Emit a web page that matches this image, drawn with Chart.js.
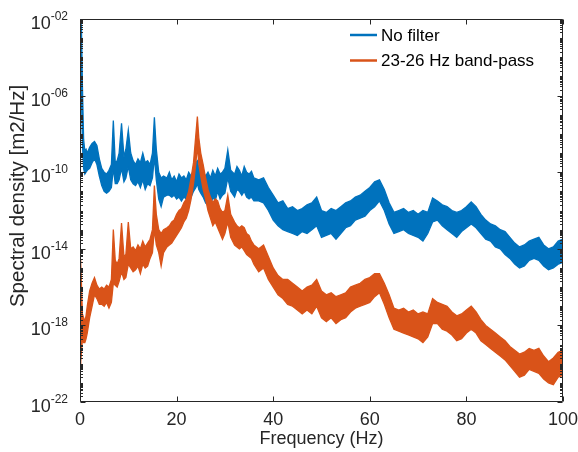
<!DOCTYPE html>
<html>
<head>
<meta charset="utf-8">
<script src="https://cdn.jsdelivr.net/npm/chart.js@4.4.0/dist/chart.umd.min.js"></script>
<style>
  html, body { margin: 0; padding: 0; background: #fff; }
</style>
</head>
<body>
<canvas id="mainChart" width="578" height="452"></canvas>
<script>
// frequency grid (Hz), denser below 36 Hz where the narrow lines are
const FREQ = [
  0, 0.15, 0.3, 0.5, 0.75, 1, 1.25, 1.5, 2, 2.5,
  3, 3.5, 4, 4.5, 5, 5.5, 6, 6.5, 6.9, 7.3,
  7.7, 8.1, 8.6, 9.1, 9.5, 10, 10.5, 11, 11.5, 12,
  12.5, 13, 13.5, 14, 14.5, 15, 15.4, 15.8, 16.3, 16.8,
  17.3, 18, 18.5, 19, 19.5, 20, 20.5, 21, 21.5, 22,
  22.5, 23, 23.5, 24, 24.3, 24.6, 25, 25.5, 26, 26.5,
  27, 27.5, 28, 28.5, 29, 29.5, 30, 30.6, 31.2, 32,
  32.5, 33, 33.5, 34, 34.5, 35, 35.5, 36,
  37, 38, 39, 40, 41, 42, 43, 44, 45, 46,
  47, 48, 49, 50, 51, 52, 53, 54, 55, 56,
  57, 58, 59, 60, 61, 62, 63, 64, 65, 66,
  67, 68, 69, 70, 71, 72, 73, 74, 75, 76,
  77, 78, 79, 80, 81, 82, 83, 84, 85, 86,
  87, 88, 89, 90, 91, 92, 93, 94, 95, 96,
  97, 98, 99, 100
];

// log10 of spectral density, upper / lower edge of the noisy trace
const NOFILT_HI = [
  -2.0, -2.1, -2.4, -5.5, -8.3, -8.9, -8.8, -9.0, -8.7, -8.5,
  -8.4, -8.6, -9.3, -9.8, -10.0, -10.1, -9.9, -9.6, -7.3, -9.5,
  -9.4, -9.0, -7.45, -9.2, -8.8, -7.8, -9.0, -9.4, -9.6, -9.3,
  -9.5, -9.0, -9.5, -9.4, -9.6, -9.0, -7.13, -8.8, -10.0, -10.3,
  -10.2, -10.3, -10.0, -10.4, -10.2, -10.5, -10.1, -10.3, -10.2, -10.4,
  -10.0, -10.2, -9.9, -9.5, -9.4, -9.8, -9.9, -10.0, -10.2, -10.0,
  -10.3, -9.9, -10.2, -9.8, -10.1, -10.0, -9.8, -8.84, -9.9, -10.1,
  -9.7, -9.9, -10.2, -9.7, -10.0, -10.1, -9.95, -10.3,
  -10.4, -10.3, -10.8, -11.2, -11.6, -11.5, -11.9, -11.8, -12.0, -11.9,
  -11.7, -11.6, -11.3, -12.0, -12.1, -11.9, -12.0, -11.8, -11.6, -11.5,
  -11.3, -11.2, -11.0, -10.8, -10.5, -10.4, -10.9, -11.6, -12.1, -12.0,
  -11.9, -12.1, -12.0, -12.2, -12.0, -12.1, -11.35, -11.5, -11.7, -11.8,
  -12.0, -12.1, -12.0, -11.8, -11.55, -11.8, -12.2, -12.5, -12.7, -12.8,
  -13.0, -13.1, -13.4, -13.7, -13.9, -13.8, -13.6, -13.5, -13.4, -13.8,
  -14.0, -13.9, -13.6, -13.5
];
const NOFILT_LO = [
  -2.5, -4.0, -6.0, -8.5, -9.8, -10.1, -10.0, -9.9, -9.8, -9.5,
  -9.3, -9.6, -10.2, -10.7, -11.0, -11.1, -11.0, -10.8, -9.8, -10.6,
  -10.6, -10.4, -9.8, -10.5, -10.3, -9.7, -10.4, -10.6, -10.7, -10.5,
  -10.8, -10.4, -10.9, -10.6, -10.7, -10.3, -9.2, -10.4, -11.4, -11.8,
  -11.3, -11.2, -11.2, -11.3, -11.2, -11.4, -11.3, -11.5, -11.3, -11.4,
  -11.2, -11.3, -11.0, -10.8, -10.6, -10.9, -11.1, -11.3, -11.6, -11.4,
  -11.8, -11.3, -11.5, -11.0, -11.4, -11.2, -11.1, -10.3, -11.0, -11.3,
  -10.9, -11.0, -11.2, -11.0, -11.3, -11.4, -11.3, -11.5,
  -11.5, -11.6, -12.0, -12.5, -12.8, -13.0, -13.1, -13.2, -13.3, -13.1,
  -13.2, -13.0, -12.8, -13.4, -13.3, -13.2, -13.5, -13.2, -12.9, -12.8,
  -12.5, -12.4, -12.3, -12.0, -11.8, -11.5, -12.0, -12.7, -13.2, -13.1,
  -13.0, -13.2, -13.3, -13.4, -13.6, -13.2, -12.6, -12.5, -12.8, -13.0,
  -13.2, -13.4, -13.1, -12.9, -12.7, -12.9, -13.2, -13.5, -13.6, -13.9,
  -14.0, -14.3, -14.5, -14.8, -15.0, -14.9, -14.6, -14.5, -14.6, -14.9,
  -15.1, -15.0, -14.8, -14.7
];
const BP_HI = [
  -14.6, -14.8, -15.8, -17.4, -17.6, -17.8, -17.5, -17.0, -16.2, -15.8,
  -15.5, -15.9, -16.1, -16.0, -16.1, -15.9, -16.0, -15.6, -13.0, -14.6,
  -14.8, -14.5, -12.66, -14.4, -14.3, -12.6, -14.0, -13.9, -14.1, -13.8,
  -14.0, -13.6, -13.9, -13.7, -13.5, -13.0, -10.7, -12.2, -13.0, -13.2,
  -13.0, -12.9, -12.8, -12.6, -12.5, -12.2, -12.0, -11.9, -11.6, -11.4,
  -11.0, -10.3, -9.5, -8.0, -7.1, -8.2, -9.0, -9.6, -10.3, -10.9,
  -11.3, -11.6, -11.4, -11.5, -11.9, -12.1, -12.0, -11.2, -12.2, -12.6,
  -12.8, -12.9, -12.8, -12.9, -13.2, -13.3, -13.6, -13.8,
  -14.0, -13.8, -14.4, -15.0, -15.4, -15.6, -15.6, -15.8, -16.0, -16.2,
  -16.0, -15.9, -15.6, -16.2, -16.4, -16.3, -16.5, -16.4, -16.3, -16.0,
  -15.9, -15.8, -15.6, -15.5, -15.3, -15.3, -15.8, -16.4, -17.1, -17.2,
  -17.1, -17.3, -17.2, -17.4, -17.3, -17.4, -16.6, -16.8, -16.9, -17.0,
  -17.3, -17.5, -17.4, -17.2, -17.0, -17.3, -17.7, -18.0, -18.2, -18.4,
  -18.6, -18.8, -19.1, -19.3, -19.5, -19.4, -19.2, -19.3, -19.2, -19.6,
  -19.9, -19.7, -19.4, -19.3
];
const BP_LO = [
  -19.8, -19.9, -19.4, -18.7, -18.9, -18.9, -18.7, -18.4, -17.6, -17.0,
  -16.4, -16.6, -16.9, -16.9, -17.0, -16.8, -17.1, -16.8, -15.8, -15.9,
  -16.0, -15.7, -15.2, -15.6, -15.5, -14.8, -15.0, -15.2, -15.1, -14.9,
  -15.3, -14.8, -15.0, -14.9, -14.5, -14.2, -13.0, -13.8, -14.2, -14.9,
  -14.2, -13.9, -13.8, -13.7, -13.5, -13.3, -13.1, -12.9, -12.6, -12.4,
  -12.0, -11.4, -10.6, -9.5, -8.6, -9.6, -10.2, -10.9, -11.4, -12.0,
  -12.4, -12.8, -12.6, -12.9, -13.2, -13.5, -13.2, -12.6, -13.4, -13.8,
  -13.9, -14.0, -13.9, -14.1, -14.3, -14.4, -14.5, -14.8,
  -15.2, -15.0, -15.6, -16.0, -16.4, -16.6, -16.9, -17.0, -17.2, -17.4,
  -17.2, -17.4, -17.0, -17.6, -17.8, -17.6, -17.9, -17.7, -17.6, -17.3,
  -17.1, -17.0, -16.9, -16.8, -16.5, -16.3, -16.9, -17.6, -18.2, -18.3,
  -18.4, -18.5, -18.6, -18.7, -18.9, -18.6, -17.9, -17.9, -18.2, -18.3,
  -18.5, -18.8, -18.7, -18.4, -18.2, -18.4, -18.8, -19.0, -19.2, -19.4,
  -19.6, -19.8, -20.1, -20.4, -20.7, -20.6, -20.3, -20.4, -20.5, -20.8,
  -21.0, -21.1, -20.7, -20.6
];

const SERIES = ['No filter', '23-26 Hz band-pass'];
const COLORS = ['#0072BD', '#D95319'];
const X_TICKS = [0, 20, 40, 60, 80, 100];
const Y_TICK_EXP = [-22, -18, -14, -10, -6, -2];

const FONT = "'Liberation Sans', Arial, sans-serif";
const AXIS_COLOR = '#262626';

function band(hi, lo, color, label) {
  const pts = arr => FREQ.map((f, i) => ({ x: f, y: Math.pow(10, arr[i]) }));
  return [
    { label, data: pts(hi), borderColor: color, backgroundColor: color, borderWidth: 1.3, pointRadius: 0, fill: '+1' },
    { label: label + ' (lower)', data: pts(lo), borderColor: color, borderWidth: 1.3, pointRadius: 0, fill: false },
  ];
}

// MATLAB-ish box, inward ticks, 10^xx labels, y label and legend
const matlabAxes = {
  id: 'matlabAxes',
  afterDraw(chart) {
    const { ctx, chartArea: a, scales: { x, y } } = chart;
    const L = Math.round(a.left) + 0.5, R = Math.round(a.right) - 0.5;
    const T = Math.round(a.top) + 0.5, B = Math.round(a.bottom) - 0.5;
    ctx.save();
    ctx.strokeStyle = AXIS_COLOR;
    ctx.lineWidth = 1;
    ctx.beginPath();
    ctx.rect(L, T, R - L, B - T);
    X_TICKS.forEach(v => {
      const px = Math.round(x.getPixelForValue(v)) + 0.5;
      ctx.moveTo(px, B); ctx.lineTo(px, B - 5);
      ctx.moveTo(px, T); ctx.lineTo(px, T + 5);
    });
    for (let d = -22; d <= -2; d++) {
      for (let k = 1; k <= 9; k++) {
        if (d === -2 && k > 1) break;
        const py = Math.round(y.getPixelForValue(k * Math.pow(10, d))) + 0.5;
        const len = (k === 1 && Y_TICK_EXP.includes(d)) ? 5 : 2.5;
        ctx.moveTo(L, py); ctx.lineTo(L + len, py);
        ctx.moveTo(R, py); ctx.lineTo(R - len, py);
      }
    }
    ctx.stroke();

    ctx.fillStyle = AXIS_COLOR;
    ctx.textAlign = 'left';
    ctx.textBaseline = 'alphabetic';
    Y_TICK_EXP.forEach(e => {
      const py = y.getPixelForValue(Math.pow(10, e));
      const sup = (e < 0 ? '-' : '') + String(Math.abs(e)).padStart(2, '0');
      ctx.font = `18px ${FONT}`;
      const w1 = ctx.measureText('10').width;
      ctx.font = `12px ${FONT}`;
      const w2 = ctx.measureText(sup).width;
      const x0 = 68 - w1 - w2;
      ctx.font = `18px ${FONT}`;
      ctx.fillText('10', x0, py + 10);
      ctx.font = `12px ${FONT}`;
      ctx.fillText(sup, x0 + w1, py + 1);
    });

    ctx.save();
    ctx.translate(18, 196);
    ctx.rotate(-Math.PI / 2);
    ctx.font = `20.5px ${FONT}`;
    ctx.textAlign = 'center';
    ctx.textBaseline = 'middle';
    ctx.fillText('Spectral density [m2/Hz]', 0, 0);
    ctx.restore();

    SERIES.forEach((name, i) => {
      const ly = 35 + i * 25.5;
      ctx.strokeStyle = COLORS[i];
      ctx.lineWidth = 2.5;
      ctx.beginPath();
      ctx.moveTo(350, ly); ctx.lineTo(377, ly);
      ctx.stroke();
      ctx.fillStyle = '#000';
      ctx.font = `17px ${FONT}`;
      ctx.textAlign = 'left';
      ctx.textBaseline = 'middle';
      ctx.fillText(name, 381, ly + 1);
    });
    ctx.restore();
  }
};

const ctx = document.getElementById('mainChart').getContext('2d');
new Chart(ctx, {
  type: 'line',
  data: {
    datasets: [
      ...band(BP_HI, BP_LO, COLORS[1], SERIES[1]),
      ...band(NOFILT_HI, NOFILT_LO, COLORS[0], SERIES[0]),
    ],
  },
  options: {
    responsive: false,
    animation: false,
    layout: { padding: { top: 19, right: 15, left: 0, bottom: 0 } },
    elements: { line: { tension: 0 } },
    plugins: { legend: { display: false }, tooltip: { enabled: false } },
    scales: {
      x: {
        type: 'linear', min: 0, max: 100,
        afterBuildTicks: s => { s.ticks = X_TICKS.map(v => ({ value: v })); },
        afterFit: s => { s.height = 50; s.paddingLeft = 0; s.paddingRight = 0; },
        grid: { display: false, drawTicks: false },
        border: { display: false },
        ticks: { font: { family: FONT, size: 18 }, color: AXIS_COLOR, padding: 7, maxRotation: 0 },
        title: { display: true, text: 'Frequency (Hz)', font: { family: FONT, size: 18 }, color: AXIS_COLOR, padding: { top: 0, bottom: 2 } },
      },
      y: {
        type: 'logarithmic', min: 1e-22, max: 1e-2,
        afterBuildTicks: s => { s.ticks = Y_TICK_EXP.map(e => ({ value: Math.pow(10, e) })); },
        afterFit: s => { s.width = 80; s.paddingTop = 0; s.paddingBottom = 0; },
        grid: { display: false, drawTicks: false },
        border: { display: false },
        ticks: { display: false },
      },
    },
  },
  plugins: [matlabAxes],
});
</script>
</body>
</html>
